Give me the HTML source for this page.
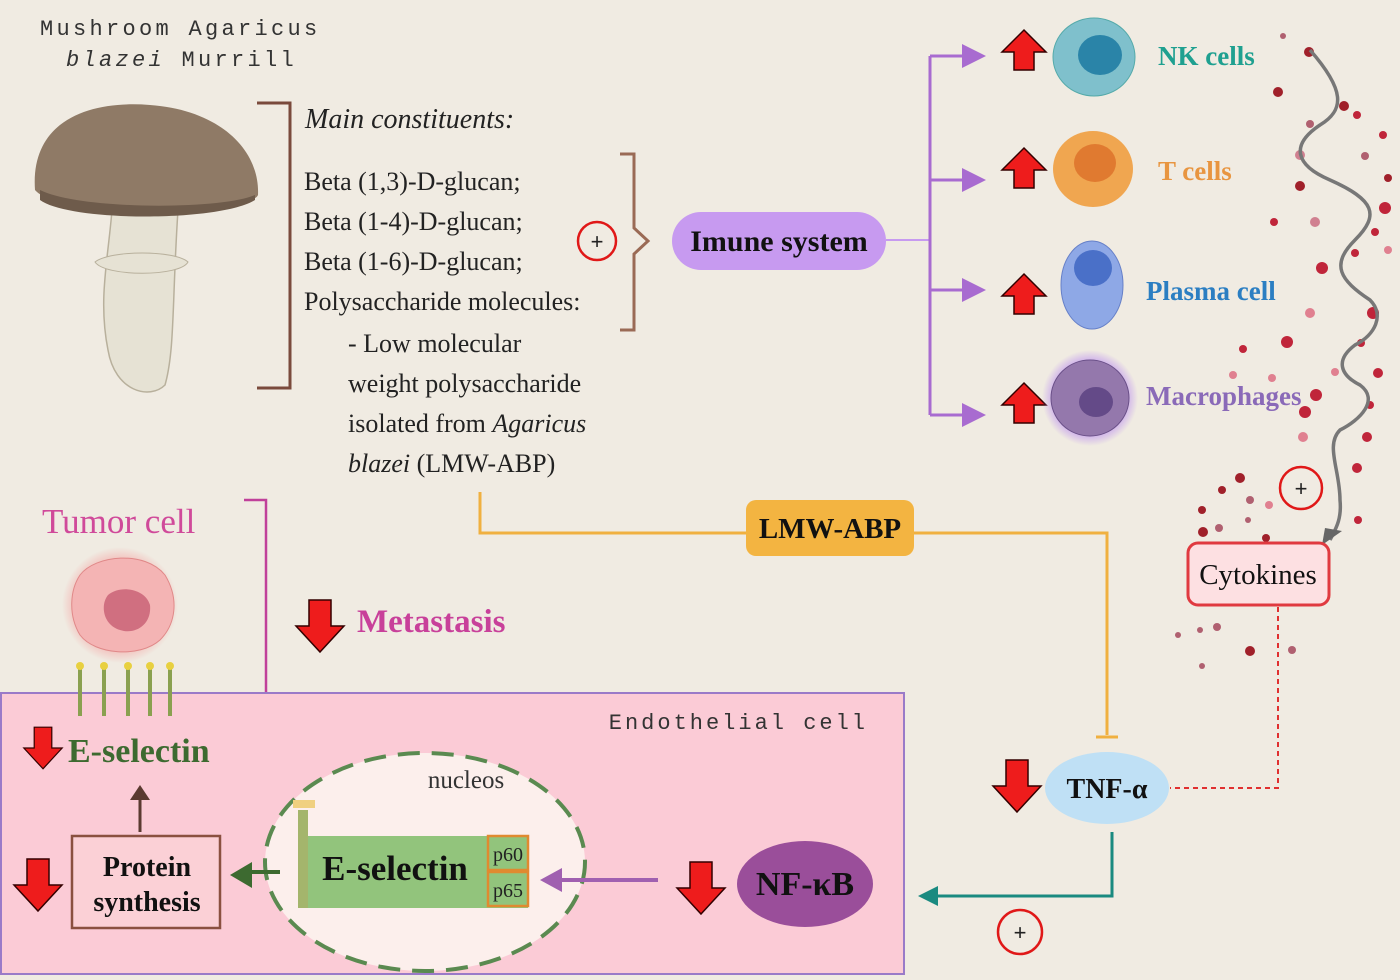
<!DOCTYPE html>
<html><head><meta charset="utf-8"><style>
html,body{margin:0;padding:0;background:#f0ebe2;}
svg{display:block}
.s{font-family:"Liberation Serif",serif}
.m{font-family:"Liberation Mono",monospace}
</style></head><body>
<svg width="1400" height="980" viewBox="0 0 1400 980" xmlns="http://www.w3.org/2000/svg">
<defs>
<marker id="ap" markerWidth="8" markerHeight="8" refX="6" refY="4" orient="auto"><path d="M0,0 L8,4 L0,8 z" fill="#a86bd0"/></marker>
<radialGradient id="glow"><stop offset="0.7" stop-color="#b98cf0" stop-opacity="0.8"/><stop offset="1" stop-color="#b98cf0" stop-opacity="0"/></radialGradient>
<radialGradient id="tg"><stop offset="0.6" stop-color="#f4a0a0"/><stop offset="1" stop-color="#f4a0a0" stop-opacity="0"/></radialGradient>
<g id="up"><path d="M0,-22 L22,0 L10,0 L10,18 L-10,18 L-10,0 L-22,0 z" fill="#ee1c1c" stroke="#300" stroke-width="1.5"/></g>
<g id="dn"><path d="M0,26 L24,0 L11,0 L11,-26 L-11,-26 L-11,0 L-24,0 z" fill="#ee1c1c" stroke="#300" stroke-width="1.5"/></g>
</defs>
<rect width="1400" height="980" fill="#f0ebe2"/>

<text x="40" y="35" class="m" font-size="22" fill="#333" letter-spacing="3.3">Mushroom Agaricus</text>
<text x="66" y="66" class="m" font-size="22" fill="#333" letter-spacing="3.3"><tspan font-style="italic">blazei</tspan> Murrill</text>

<!-- mushroom -->
<path d="M112,210 C108,260 98,300 108,350 C115,392 150,400 165,385 C175,350 172,300 178,210 z" fill="#e6e2d4" stroke="#b8b09c" stroke-width="1.5"/>
<path d="M95,262 C110,250 175,250 188,262 C180,277 105,277 95,262z" fill="#e6e2d4" stroke="#b8b09c"/>
<path d="M35,190 C30,120 90,100 150,105 C220,110 260,150 258,195 C250,215 60,220 35,190 z" fill="#8f7a66"/>
<path d="M40,190 C80,210 220,210 255,195 L255,200 C220,222 70,222 40,200z" fill="#6e5b4b"/>

<path d="M257,103 H290 V388 H257" fill="none" stroke="#7a4a3c" stroke-width="3"/>
<g class="s" font-size="26" fill="#222">
<text x="305" y="128" font-style="italic" font-size="28">Main constituents:</text>
<text x="304" y="190">Beta (1,3)-D-glucan;</text>
<text x="304" y="230">Beta (1-4)-D-glucan;</text>
<text x="304" y="270">Beta (1-6)-D-glucan;</text>
<text x="304" y="310">Polysaccharide molecules:</text>
<text x="348" y="352">- Low molecular</text>
<text x="348" y="392">weight polysaccharide</text>
<text x="348" y="432">isolated from <tspan font-style="italic">Agaricus</tspan></text>
<text x="348" y="472"><tspan font-style="italic">blazei</tspan> (LMW-ABP)</text>
</g>
<circle cx="597" cy="241" r="19" fill="none" stroke="#e01818" stroke-width="2.5"/>
<text x="597" y="249" text-anchor="middle" font-size="22" font-family="Liberation Sans" fill="#222">+</text>
<path d="M620,154 H634 V228 L648,241 L634,254 V330 H620" fill="none" stroke="#9a6a55" stroke-width="3"/>

<rect x="672" y="212" width="214" height="58" rx="29" fill="#c79af0"/>
<text x="779" y="251" text-anchor="middle" class="s" font-size="30" font-weight="bold" fill="#111">Imune system</text>
<path d="M886,240 H930" stroke="#c79af0" stroke-width="2"/>
<path d="M930,56 V415" stroke="#a86bd0" stroke-width="3" fill="none"/>
<g stroke="#a86bd0" stroke-width="3" marker-end="url(#ap)">
<path d="M930,56 H980"/><path d="M930,180 H980"/><path d="M930,290 H980"/><path d="M930,415 H980"/>
</g>
<use href="#up" x="1024" y="52"/><use href="#up" x="1024" y="170"/><use href="#up" x="1024" y="296"/><use href="#up" x="1024" y="405"/>

<ellipse cx="1094" cy="57" rx="41" ry="39" fill="#7fc0cc" stroke="#5aa"/>
<ellipse cx="1100" cy="55" rx="22" ry="20" fill="#2a84a8"/>
<ellipse cx="1093" cy="169" rx="40" ry="38" fill="#f0a650"/>
<ellipse cx="1095" cy="163" rx="21" ry="19" fill="#e07a30"/>
<ellipse cx="1092" cy="285" rx="31" ry="44" fill="#8ea8e6" stroke="#6680c8"/>
<ellipse cx="1093" cy="268" rx="19" ry="18" fill="#4a70c8"/>
<circle cx="1090" cy="398" r="48" fill="url(#glow)"/>
<ellipse cx="1090" cy="398" rx="39" ry="38" fill="#9478ac" stroke="#6a5088"/>
<ellipse cx="1096" cy="402" rx="17" ry="15" fill="#644a88"/>

<g class="s" font-weight="bold" font-size="27">
<text x="1158" y="65" fill="#1fa090">NK cells</text>
<text x="1158" y="180" fill="#e89540">T cells</text>
<text x="1146" y="300" fill="#2b7ec2">Plasma cell</text>
<text x="1146" y="405" fill="#8a6ab8">Macrophages</text>
</g>

<!-- dots -->
<g fill="#c0253a">
<circle cx="1309" cy="52" r="5" fill="#a0202a"/><circle cx="1283" cy="36" r="3" fill="#b06070"/><circle cx="1344" cy="106" r="5" fill="#a0202a"/><circle cx="1278" cy="92" r="5" fill="#a0202a"/><circle cx="1357" cy="115" r="4"/><circle cx="1310" cy="124" r="4" fill="#b06070"/><circle cx="1300" cy="155" r="5" fill="#d08090"/><circle cx="1383" cy="135" r="4"/><circle cx="1300" cy="186" r="5" fill="#a0202a"/><circle cx="1365" cy="156" r="4" fill="#b06070"/><circle cx="1388" cy="178" r="4" fill="#a0202a"/><circle cx="1274" cy="222" r="4"/><circle cx="1315" cy="222" r="5" fill="#d08090"/><circle cx="1385" cy="208" r="6"/><circle cx="1322" cy="268" r="6"/><circle cx="1355" cy="253" r="4"/><circle cx="1375" cy="232" r="4"/><circle cx="1388" cy="250" r="4" fill="#e08090"/><circle cx="1310" cy="313" r="5" fill="#e08090"/><circle cx="1373" cy="313" r="6"/><circle cx="1287" cy="342" r="6"/><circle cx="1361" cy="343" r="4"/><circle cx="1243" cy="349" r="4"/><circle cx="1335" cy="372" r="4" fill="#e08090"/><circle cx="1378" cy="373" r="5"/><circle cx="1272" cy="378" r="4" fill="#e08090"/><circle cx="1233" cy="375" r="4" fill="#e08090"/><circle cx="1316" cy="395" r="6"/><circle cx="1305" cy="412" r="6"/><circle cx="1370" cy="405" r="4"/><circle cx="1303" cy="437" r="5" fill="#e08090"/><circle cx="1367" cy="437" r="5"/><circle cx="1357" cy="468" r="5"/><circle cx="1240" cy="478" r="5" fill="#a0202a"/><circle cx="1222" cy="490" r="4" fill="#a0202a"/><circle cx="1250" cy="500" r="4" fill="#b06070"/><circle cx="1269" cy="505" r="4" fill="#e08090"/><circle cx="1202" cy="510" r="4" fill="#a0202a"/><circle cx="1248" cy="520" r="3" fill="#b06070"/><circle cx="1203" cy="532" r="5" fill="#a0202a"/><circle cx="1219" cy="528" r="4" fill="#b06070"/><circle cx="1266" cy="538" r="4" fill="#a0202a"/><circle cx="1358" cy="520" r="4"/><circle cx="1217" cy="627" r="4" fill="#b06070"/><circle cx="1200" cy="630" r="3" fill="#b06070"/><circle cx="1178" cy="635" r="3" fill="#b06070"/><circle cx="1250" cy="651" r="5" fill="#a0202a"/><circle cx="1292" cy="650" r="4" fill="#b06070"/><circle cx="1202" cy="666" r="3" fill="#b06070"/>
</g>
<path d="M1310,50 C1345,90 1345,110 1320,125 C1290,145 1295,165 1330,180 C1375,200 1380,215 1355,240 C1330,265 1340,280 1370,300 C1385,315 1375,335 1355,345 C1335,360 1340,375 1360,385 C1380,400 1360,420 1340,430 C1325,445 1340,470 1340,500 C1342,520 1335,530 1330,540" fill="none" stroke="#777" stroke-width="3.5"/>
<path d="M1322,545 L1342,531 L1325,528 z" fill="#666"/>
<circle cx="1301" cy="488" r="21" fill="none" stroke="#e01818" stroke-width="2.5"/>
<text x="1301" y="496" text-anchor="middle" font-size="22" font-family="Liberation Sans" fill="#222">+</text>
<rect x="1188" y="543" width="141" height="62" rx="10" fill="#fde0e2" stroke="#e03a40" stroke-width="3"/>
<text x="1258" y="584" text-anchor="middle" class="s" font-size="29" fill="#111">Cytokines</text>
<path d="M1278,607 V788 H1170" fill="none" stroke="#e03030" stroke-width="2" stroke-dasharray="5,4"/>

<!-- LMW-ABP line -->
<path d="M480,492 V533 H1107 V735 M1096,737 H1118" fill="none" stroke="#f0b040" stroke-width="3"/>
<rect x="746" y="500" width="168" height="56" rx="10" fill="#f3b441"/>
<text x="830" y="538" text-anchor="middle" class="s" font-size="29" font-weight="bold" fill="#111">LMW-ABP</text>

<ellipse cx="1107" cy="788" rx="62" ry="36" fill="#bfe0f5"/>
<text x="1107" y="798" text-anchor="middle" class="s" font-size="28" font-weight="bold" fill="#111">TNF-α</text>
<use href="#dn" x="1017" y="786"/>
<path d="M1112,832 V896 H935" fill="none" stroke="#1a8a80" stroke-width="3"/>
<path d="M918,896 L938,886 L938,906 z" fill="#1a8a80"/>
<circle cx="1020" cy="932" r="22" fill="none" stroke="#e01818" stroke-width="2.5"/>
<text x="1020" y="940" text-anchor="middle" font-size="22" font-family="Liberation Sans" fill="#222">+</text>

<!-- tumor -->
<text x="42" y="533" class="s" font-size="35" fill="#d04a9a">Tumor cell</text>
<path d="M244,500 H266 V768 H244" fill="none" stroke="#c0409a" stroke-width="2.5"/>
<circle cx="120" cy="605" r="58" fill="url(#tg)"/>
<path d="M80,575 C95,555 145,550 165,575 C180,600 175,625 160,640 C140,658 95,655 80,635 C68,615 70,590 80,575z" fill="#f4b4b4" stroke="#e08888"/>
<path d="M108,595 C120,585 145,588 150,605 C152,625 135,635 120,630 C103,625 100,605 108,595z" fill="#d06f80"/>
<use href="#dn" x="320" y="626"/>
<text x="357" y="632" class="s" font-size="33" font-weight="bold" fill="#c8409a">Metastasis</text>

<!-- endothelial -->
<rect x="1" y="693" width="903" height="281" fill="#fbcbd6" stroke="#9a7ac8" stroke-width="2"/>
<g stroke="#8aa050" stroke-width="4"><path d="M80,668 V716"/><path d="M104,668 V716"/><path d="M128,668 V716"/><path d="M150,668 V716"/><path d="M170,668 V716"/></g>
<g fill="#e8d040"><circle cx="80" cy="666" r="4"/><circle cx="104" cy="666" r="4"/><circle cx="128" cy="666" r="4"/><circle cx="150" cy="666" r="4"/><circle cx="170" cy="666" r="4"/></g>
<text x="868" y="729" text-anchor="end" class="m" font-size="22" fill="#333" letter-spacing="3">Endothelial cell</text>
<g transform="translate(43,748) scale(0.8)"><use href="#dn"/></g>
<text x="68" y="762" class="s" font-size="34" font-weight="bold" fill="#3d6a30">E-selectin</text>
<path d="M140,832 V795" stroke="#5a3a30" stroke-width="3"/><path d="M130,800 L140,785 L150,800z" fill="#5a3a30"/>
<rect x="72" y="836" width="148" height="92" fill="#fbd0d6" stroke="#8a5040" stroke-width="2.5"/>
<text x="147" y="876" text-anchor="middle" class="s" font-size="28" font-weight="bold" fill="#111">Protein</text>
<text x="147" y="911" text-anchor="middle" class="s" font-size="28" font-weight="bold" fill="#111">synthesis</text>
<use href="#dn" x="38" y="885"/>

<ellipse cx="425" cy="862" rx="160" ry="109" fill="#fcefec" stroke="#5a8a50" stroke-width="4" stroke-dasharray="22,12"/>
<text x="466" y="788" text-anchor="middle" class="s" font-size="25" fill="#333">nucleos</text>
<rect x="302" y="836" width="226" height="72" fill="#92c47c"/>
<rect x="298" y="810" width="10" height="98" fill="#a4b56c"/>
<rect x="293" y="800" width="22" height="8" fill="#f0d080"/>
<rect x="488" y="836" width="40" height="34" fill="#92c47c" stroke="#e08a30" stroke-width="2.5"/>
<rect x="488" y="872" width="40" height="34" fill="#92c47c" stroke="#e08a30" stroke-width="2.5"/>
<text x="508" y="861" text-anchor="middle" class="s" font-size="20" fill="#222">p60</text>
<text x="508" y="897" text-anchor="middle" class="s" font-size="20" fill="#222">p65</text>
<text x="395" y="880" text-anchor="middle" class="s" font-size="35" font-weight="bold" fill="#111">E-selectin</text>
<path d="M280,872 H248" stroke="#3d6a30" stroke-width="4"/><path d="M230,875 L252,862 L252,888z" fill="#3d6a30"/>
<path d="M658,880 H560" stroke="#a060b0" stroke-width="4"/><path d="M540,880 L562,868 L562,892z" fill="#a060b0"/>
<use href="#dn" x="701" y="888"/>
<ellipse cx="805" cy="884" rx="68" ry="43" fill="#9a4e9a"/>
<text x="805" y="895" text-anchor="middle" class="s" font-size="34" font-weight="bold" fill="#111">NF-κB</text>
</svg>
</body></html>
